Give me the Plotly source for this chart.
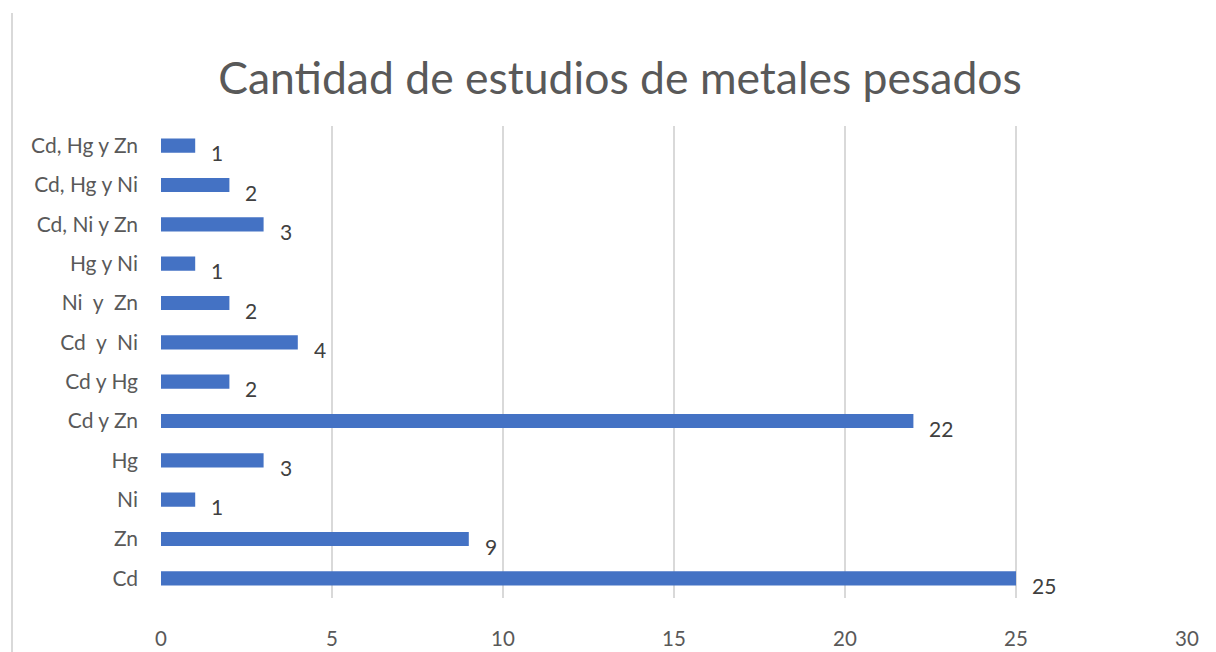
import plotly.graph_objects as go

categories = ["Cd", "Zn", "Ni", "Hg", "Cd y Zn", "Cd y Hg", "Cd  y  Ni", "Ni  y  Zn",
              "Hg y Ni", "Cd, Ni y Zn", "Cd, Hg y Ni", "Cd, Hg y Zn"]
values = [25, 9, 1, 3, 22, 2, 4, 2, 1, 3, 2, 1]
title_text = "Cantidad de estudios de metales pesados"

FONT = "Lato"
fig = go.Figure()
fig.add_trace(go.Bar(
    x=values, y=categories, orientation="h",
    marker=dict(color="#4472C4", line=dict(width=0)),
    width=0.36, hoverinfo="x+y",
))

for c, v in zip(categories, values):
    fig.add_annotation(x=v, y=c, text=str(v), showarrow=False,
                       xanchor="left", yanchor="middle", xshift=14, yshift=-7,
                       font=dict(family=FONT, size=21, color="#404040"))

fig.add_shape(type="line", xref="paper", yref="paper",
              x0=(12 - 161) / 1026, x1=(12 - 161) / 1026,
              y0=(598 - 13) / 472, y1=-0.2,
              line=dict(color="#D9D9D9", width=2))

fig.update_layout(
    width=1216, height=652,
    margin=dict(l=161, r=29, t=126, b=54, autoexpand=False),
    paper_bgcolor="white", plot_bgcolor="white",
    title=dict(text=title_text, x=(620) / 1216, xanchor="center",
               y=1 - 78 / 652, yanchor="middle", yref="container",
               font=dict(family=FONT, size=44.5, color="#595959")),
    showlegend=False,
    xaxis=dict(range=[0, 30], dtick=5, tick0=0, showgrid=True, gridcolor="#D9D9D9",
               gridwidth=1.5, zeroline=False, showline=False, ticks="",
               tickfont=dict(family=FONT, size=20.5, color="#595959"),
               ticklabelstandoff=26, fixedrange=True, automargin=False),
    yaxis=dict(categoryorder="array", categoryarray=categories, showgrid=False,
               zeroline=False, showline=False, ticks="",
               tickfont=dict(family=FONT, size=21, color="#595959"),
               ticklabelstandoff=22, range=[-0.5, 11.5], fixedrange=True,
               automargin=False),
)

fig.write_html("out.html")
